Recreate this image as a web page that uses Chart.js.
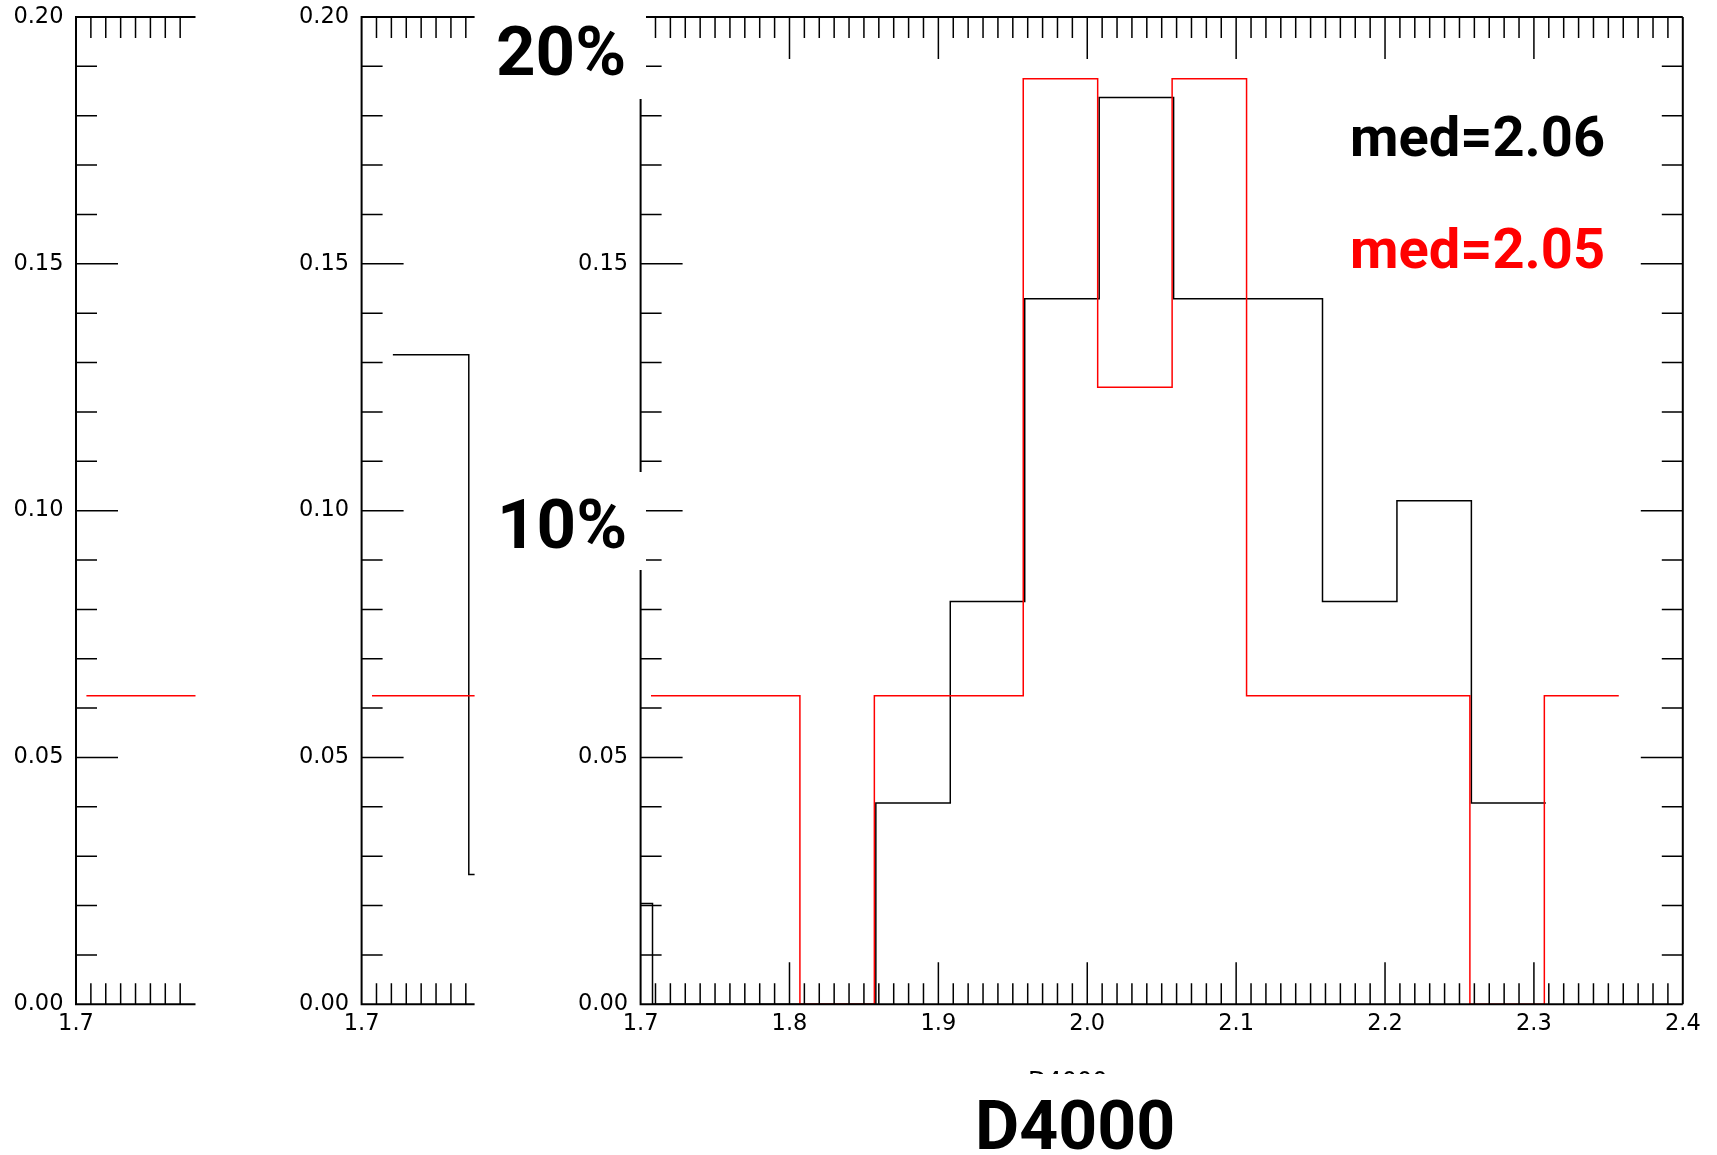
<!DOCTYPE html>
<html>
<head>
<meta charset="utf-8">
<script src="https://cdn.jsdelivr.net/npm/chart.js@4.4.1/dist/chart.umd.min.js"></script>
<style>
  body { margin: 0; background: #fff; }
  #page { position: relative; width: 1717px; height: 1155px; overflow: hidden; }
  canvas { position: absolute; left: 0; top: 0; }
  .box { position: absolute; background: #fff; }
  .big { position: absolute; font-family: "Comic Sans MS", Roboto, sans-serif; font-weight: 700; line-height: 1; white-space: nowrap; }
  .small { position: absolute; font-family: "DejaVu Sans", sans-serif; font-size: 24px; line-height: 1; white-space: nowrap; }
</style>
</head>
<body>
<div id="page">
  <canvas id="panel1" width="1717" height="1155"></canvas>
  <canvas id="panel2" width="1717" height="1155"></canvas>
  <canvas id="panel3" width="1717" height="1155"></canvas>

  <div class="small" style="left:1028px; top:1069px;">D4000</div>

  <div class="box" style="left:480px; top:0px; width:166px; height:99px;"></div>
  <div class="big" style="left:496px; top:17px; font-size:69px;">20%</div>
  <div class="box" style="left:480px; top:472px; width:166px; height:98px;"></div>
  <div class="big" style="left:497px; top:490px; font-size:69px;">10%</div>

  <div class="big" style="left:1350px; top:109px; font-size:56px; color:#000;">med=2.06</div>
  <div class="big" style="left:1350px; top:221px; font-size:56px; color:#ff0000;">med=2.05</div>

  <div class="box" style="left:900px; top:1074px; width:350px; height:81px;"></div>
  <div class="big" style="left:975px; top:1092px; font-size:68px;">D4000</div>
</div>

<script>
// histogram bin edges and fractions
const redEdges = [1.707, 1.757, 1.807, 1.857, 1.907, 1.957, 2.007, 2.057, 2.107, 2.157, 2.207, 2.257, 2.307, 2.357];
const redValues = [0.0625, 0.0625, 0, 0.0625, 0.0625, 0.1875, 0.125, 0.1875, 0.0625, 0.0625, 0.0625, 0, 0.0625];

const blackEdges = [1.658, 1.708, 1.758, 1.808, 1.858, 1.908, 1.958, 2.008, 2.058, 2.108, 2.158, 2.208, 2.258, 2.308];
const blackValues = [0.0204, 0, 0, 0, 0.0408, 0.0816, 0.1429, 0.1837, 0.1429, 0.1429, 0.0816, 0.102, 0.0408];

// the black line seen in the second (cropped) panel
const insetEdges = [1.721, 1.772, 1.823];
const insetValues = [0.1316, 0.0263];

const xTickValues = [1.7, 1.8, 1.9, 2.0, 2.1, 2.2, 2.3, 2.4];
const yTickValues = [0, 0.05, 0.10, 0.15, 0.20];

function steps(edges, values) {
  const pts = values.map((v, i) => ({ x: edges[i], y: v }));
  pts.push({ x: edges[edges.length - 1], y: values[values.length - 1] });
  return pts;
}

// inward ticks + frame, like the IDL style plot
const inwardTicks = {
  id: 'inwardTicks',
  afterDatasetsDraw(chart, args, opts) {
    const { ctx, chartArea: a } = chart;
    const x = chart.scales.x, y = chart.scales.y;
    ctx.save();
    ctx.strokeStyle = '#000';
    ctx.lineWidth = 1.5;
    ctx.beginPath();
    for (let k = 1; ; k++) {
      const v = x.min + k * 0.01;
      if (v >= x.max - 0.001) break;
      const px = x.getPixelForValue(v);
      const len = k % 10 === 0 ? 42 : 21;
      ctx.moveTo(px, a.top); ctx.lineTo(px, a.top + len);
      ctx.moveTo(px, a.bottom); ctx.lineTo(px, a.bottom - len);
    }
    for (let k = 1; k < 20; k++) {
      const py = y.getPixelForValue(k * 0.01);
      const len = k % 5 === 0 ? 42 : 21;
      ctx.moveTo(a.left, py); ctx.lineTo(a.left + len, py);
      if (opts.right) { ctx.moveTo(a.right, py); ctx.lineTo(a.right - len, py); }
    }
    ctx.stroke();

    ctx.lineWidth = 2;
    ctx.beginPath();
    ctx.moveTo(a.right, a.top);
    ctx.lineTo(a.left, a.top);
    ctx.lineTo(a.left, a.bottom);
    ctx.lineTo(a.right, a.bottom);
    if (opts.right) { ctx.moveTo(a.right, a.top); ctx.lineTo(a.right, a.bottom); }
    ctx.stroke();
    ctx.restore();
  }
};

const tickFont = { family: 'DejaVu Sans', size: 22.5 };
const plotTop = 17, plotBottom = 1004.3;

function makePanel(id, left, right, xmax, datasets, drawRight) {
  const chart = new Chart(document.getElementById(id), {
    type: 'line',
    data: { datasets: datasets },
    plugins: [inwardTicks],
    options: {
      responsive: false,
      animation: false,
      devicePixelRatio: 1,
      layout: { padding: { left: left - 70, right: 1717 - right, top: plotTop, bottom: 1155 - plotBottom - 60 } },
      plugins: { legend: { display: false }, tooltip: { enabled: false }, inwardTicks: { right: drawRight } },
      elements: { point: { radius: 0 }, line: { tension: 0 } },
      scales: {
        x: {
          type: 'linear', min: 1.7, max: xmax,
          grid: { display: false, drawTicks: false }, border: { display: false },
          // fixed size, and no label overhang so the plot box lands exactly
          afterFit: s => { s.height = 60; s.paddingLeft = 0; s.paddingRight = 0; },
          afterBuildTicks: s => { s.ticks = xTickValues.filter(v => v <= xmax + 1e-6).map(v => ({ value: v })); },
          ticks: { font: tickFont, color: '#000', padding: 6, maxRotation: 0, autoSkip: false, callback: v => v.toFixed(1) }
        },
        y: {
          type: 'linear', min: 0, max: 0.2,
          grid: { display: false, drawTicks: false }, border: { display: false },
          afterFit: s => { s.width = 70; s.paddingTop = 0; s.paddingBottom = 0; },
          afterBuildTicks: s => { s.ticks = yTickValues.map(v => ({ value: v })); },
          ticks: { font: tickFont, color: '#000', padding: 12.5, callback: v => v.toFixed(2) }
        }
      }
    }
  });

  // nudge the padding until the plot box sits where the reference has it
  const p = chart.config.options.layout.padding;
  for (let i = 0; i < 4; i++) {
    const a = chart.chartArea;
    p.top += plotTop - a.top;
    p.bottom += a.bottom - plotBottom;
    p.left += left - a.left;
    p.right += a.right - right;
    chart.update();
  }
}

const redSet = { data: steps(redEdges, redValues), borderColor: '#ff0000', borderWidth: 1.5, stepped: true, fill: false };
const blackSet = { data: steps(blackEdges, blackValues), borderColor: '#000', borderWidth: 1.5, stepped: true, fill: false };
const insetSet = { data: steps(insetEdges, insetValues), borderColor: '#000', borderWidth: 1.5, stepped: true, fill: false };

makePanel('panel1', 76, 195.5, 1.7803, [redSet], false);
makePanel('panel2', 361.6, 474.6, 1.7759, [{ ...redSet }, insetSet], false);
makePanel('panel3', 640.6, 1682.8, 2.4, [{ ...redSet }, blackSet], true);
</script>
</body>
</html>
